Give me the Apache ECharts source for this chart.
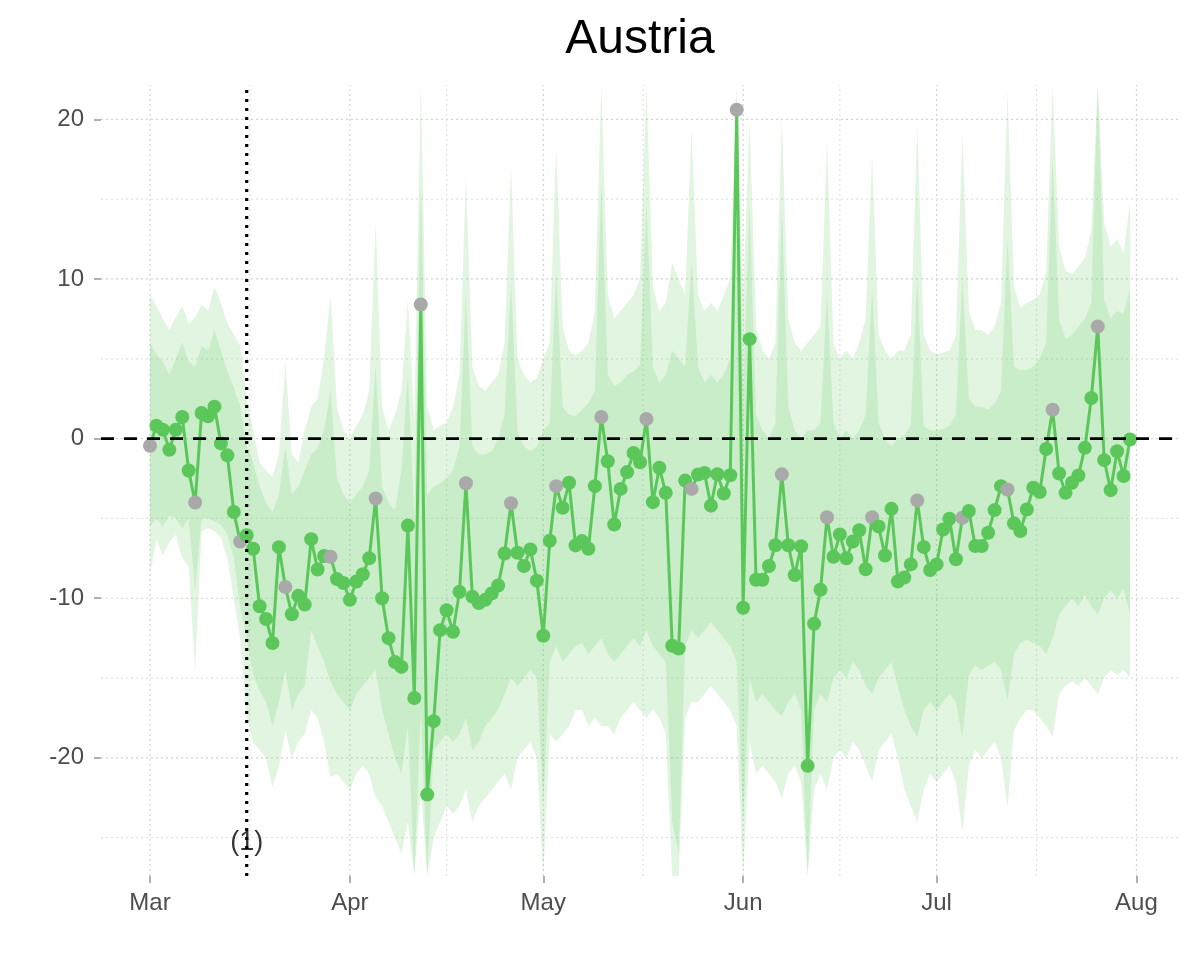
<!DOCTYPE html>
<html><head><meta charset="utf-8">
<script src="https://cdn.jsdelivr.net/npm/echarts@6/dist/echarts.min.js"></script>
<style>html,body{margin:0;padding:0;background:#fff}#chart{width:1200px;height:960px}</style>
</head><body><div id="chart"></div>
<script>
// ---- data (day index 0 = 1 March 2020) ----
const startDate = [2020, 2, 1];
const values = [
 -0.45, 0.8, 0.55, -0.7, 0.55, 1.35, -2.0, -4.0, 1.6, 1.4, 2.0, -0.3, -1.05, -4.6, -6.45,
 -6.05, -6.9, -10.5, -11.3, -12.8, -6.8, -9.3, -11.0, -9.85, -10.4, -6.3, -8.2, -7.35,
 -7.4, -8.8, -9.05, -10.1, -8.95, -8.5, -7.5, -3.75, -10.0, -12.5, -14.0, -14.3, -5.45, -16.25,
 8.4, -22.3, -17.7, -12.0, -10.75, -12.1, -9.6, -2.8, -9.9, -10.3, -10.1, -9.7, -9.2, -7.2,
 -4.05, -7.15, -7.98, -6.94, -8.9, -12.35, -6.4, -2.98, -4.33, -2.77, -6.69, -6.42, -6.9, -2.98,
 1.35, -1.42, -5.38, -3.15, -2.1, -0.9, -1.48, 1.23, -3.98, -1.83, -3.4, -12.98, -13.15, -2.63,
 -3.15, -2.25, -2.15, -4.2, -2.23, -3.44, -2.3,
 20.6, -10.6, 6.23, -8.84, -8.84, -7.98, -6.68, -2.24, -6.68, -8.55, -6.74, -20.5, -11.6, -9.47,
 -4.93, -7.4, -6.0, -7.5, -6.45, -5.74, -8.18, -4.93, -5.5, -7.32, -4.4, -8.95, -8.7, -7.88,
 -3.88, -6.79, -8.23, -7.88, -5.69, -5.02, -7.56, -4.96, -4.54, -6.73, -6.73, -5.9, -4.48, -2.98,
 -3.19, -5.31, -5.79, -4.44, -3.08, -3.35, -0.65, 1.81, -2.19, -3.4, -2.77, -2.31, -0.58, 2.54,
 7.02, -1.35, -3.23, -0.79, -2.35, -0.06
];
const lightHigh = [
 9.0, 8.3, 7.5, 6.8, 7.6, 8.3, 7.2, 7.6, 8.4, 8.0, 9.5, 8.5, 7.2, 6.5, 5.8,
 2.5, 0.5, -1.5, -2.0, -2.4, -1.0, 4.8, -1.0, -1.5, 0.5, 2.0, 2.5, 5.0,
 9.0, 2.0, 0.5, 0.0, 0.8, 1.5, 3.0, 13.5, 2.0, 0.5, 1.5, 3.0, 8.7, 1.0, 23.0, 2.0, 0.5, 0.8, 1.0, 2.0, 4.0, 16.4, 4.5, 3.3, 3.0, 3.5, 4.0, 6.0, 17.0,
 5.0, 4.0, 3.5, 3.8, 5.0, 6.0, 18.3, 7.0, 5.5, 5.2, 5.5, 6.0, 8.0, 23.0, 9.0, 7.5, 8.0, 8.5, 9.0, 10.0, 23.0, 9.5, 8.0, 8.5, 11.0, 10.0, 9.0, 19.4, 9.0, 8.0, 8.5, 8.0, 9.0, 10.0,
 23.0, 9.0, 19.9, 7.0, 5.5, 5.0, 6.0, 20.0, 7.5, 6.0, 5.5, 6.0, 6.5, 7.0, 18.6, 6.0, 5.0, 5.5, 5.0, 6.0, 7.5, 17.8, 6.5, 5.5, 5.0, 5.5, 5.5, 6.5, 19.6, 6.5, 5.5, 5.3, 5.4, 5.5, 6.5, 19.1, 8.0, 6.8, 6.8, 6.5, 7.0, 8.5, 21.8, 9.5, 8.2, 8.5, 8.7, 9.0, 10.5, 23.0, 12.0, 10.5, 10.3, 10.8, 11.3, 13.0, 23.0, 13.5, 12.0, 12.5, 11.6, 14.8
];
const darkHigh = [
 6.0, 5.3, 4.8, 4.0, 5.0, 6.0, 4.8, 4.5, 5.8, 5.5, 6.8, 5.5, 4.2, 3.2, 2.0,
 -0.5, -1.5, -3.0, -4.0, -4.6, -3.5, -0.5, -3.5, -3.0, -2.0, -1.0, -0.6, 0.5,
 3.0, -2.5, -3.5, -4.0, -3.5, -3.0, -2.0, 4.6, -3.0, -4.0, -4.5, -2.0, 4.0, -5.0, 16.0, -3.5, -3.0, -2.8, -2.5, -2.0, -0.5, 9.0, -0.5, -1.0, -1.0, -0.8, 0.0, 1.5, 9.7,
 0.5, -0.5, -0.8, -0.5, 0.5, 1.0, 10.3, 2.0, 1.5, 1.4, 1.8, 2.2, 3.0, 16.0, 4.0, 3.3, 3.5, 4.0, 4.2, 4.6, 14.8, 4.5, 3.5, 4.0, 5.5, 5.0, 4.5, 11.0, 4.5, 3.5, 4.0, 3.5, 4.0, 5.0,
 21.5, 3.0, 14.5, 1.5, 0.5, 0.0, 1.0, 14.5, 2.0, 0.5, 0.0, 0.5, 0.5, 1.0, 9.0, 1.0, 0.0, 0.5, 0.0, 0.5, 1.5, 9.4, 1.0, 0.0, -0.5, 0.0, 0.2, 0.8, 10.0, 0.8, 0.5, 0.5, 0.6, 0.8, 1.5, 10.0, 2.5, 2.0, 2.0, 1.8, 2.2, 3.0, 12.5, 4.5, 4.3, 4.3, 4.5, 5.0, 6.0, 17.6, 7.5, 6.2, 6.5, 7.0, 7.5, 8.5, 22.5, 8.7, 7.5, 8.0, 7.8, 9.4
];
const darkLow = [
 -5.5, -5.0, -5.5, -4.8, -5.0, -5.6, -5.0, -9.5, -5.0, -5.0, -5.2, -5.4, -6.0, -7.5, -10.5,
 -12.5, -14.8, -15.8, -16.5, -18.0, -16.5, -14.5, -17.0, -16.0, -15.5, -12.0, -13.0, -14.0,
 -15.2, -16.0, -16.5, -17.0, -16.0, -15.5, -15.0, -14.5, -17.0, -18.5, -20.0, -21.0, -18.0, -28.0, -17.0, -28.0, -19.5, -19.0, -18.5, -19.0, -18.5, -17.5, -19.5, -19.0, -18.0, -17.5, -17.0, -16.0, -15.0,
 -15.5, -15.0, -14.5, -15.0, -22.8, -14.0, -13.0, -14.0, -13.5, -13.0, -12.8, -13.5, -13.0, -12.5, -13.5, -14.0, -13.5, -13.0, -12.5, -13.0, -12.0, -13.0, -13.5, -14.0, -24.0, -26.0, -13.0, -12.0, -12.5, -12.0, -11.5, -12.0, -12.5, -13.0,
 -14.0, -24.0, -15.0, -16.5, -16.0, -16.5, -17.0, -17.4, -16.5, -16.0, -17.0, -28.0, -17.0, -16.0, -16.5, -15.0, -14.5, -15.0, -14.0, -14.5, -15.5, -16.0, -15.0, -14.5, -14.0, -15.5, -17.0, -18.0, -18.7, -17.0, -16.5, -17.0, -16.5, -16.0, -16.5, -18.7, -14.8, -14.2, -14.5, -14.2, -14.0, -14.5, -16.4, -13.5, -12.8, -12.6, -12.8, -13.0, -13.5, -12.5, -11.0, -10.5, -10.0, -10.5, -9.8, -10.5, -11.0, -10.0, -9.5, -10.0, -9.4, -11.0
];
const lightLow = [
 -8.5, -6.3, -7.3, -6.5, -6.0, -7.5, -8.0, -14.5, -5.8, -5.6, -5.8, -6.2, -7.5, -10.0, -12.6,
 -17.4, -19.0, -19.5, -20.0, -21.8, -20.5, -18.3, -20.0, -19.0, -18.5, -17.0, -17.5, -19.0,
 -21.2, -21.0, -21.5, -22.0, -21.0, -20.5, -21.0, -22.5, -23.0, -24.0, -25.0, -26.0, -24.0, -28.0, -22.0, -28.0, -25.0, -24.0, -23.0, -23.5, -23.0, -22.0, -24.0, -23.0, -22.5, -22.0, -21.5, -21.0, -22.0,
 -20.0, -19.5, -19.0, -20.0, -28.0, -18.5, -19.0, -18.5, -18.0, -17.0, -17.0, -18.0, -17.5, -18.0, -18.0, -18.5, -17.5, -17.0, -16.5, -17.0, -17.5, -17.0, -17.5, -18.5, -28.0, -28.0, -17.5, -16.5, -16.5, -16.0, -15.5, -16.0, -16.5, -17.0,
 -18.0, -28.0, -19.0, -21.0, -20.5, -21.0, -21.5, -22.5, -21.0, -20.5, -21.5, -28.0, -22.0, -21.0, -22.0, -20.0, -19.5, -20.0, -19.0, -19.5, -20.5, -21.5, -19.5, -19.0, -18.5, -20.0, -22.0, -23.0, -24.0, -22.0, -21.0, -21.5, -21.0, -20.5, -21.5, -24.7, -20.5, -19.5, -20.0, -19.5, -19.0, -20.0, -23.1, -18.3, -17.5, -17.0, -17.0, -17.5, -18.0, -18.7, -16.0, -15.5, -15.2, -15.5, -15.0, -15.5, -16.0, -15.0, -14.5, -14.8, -14.5, -15.0
];
const monthTickDays = [0, 31, 61, 92, 122, 153];
const monthTickLabels = ['Mar', 'Apr', 'May', 'Jun', 'Jul', 'Aug'];
const yTickValues = [-20, -10, 0, 10, 20];
const yMinorValues = [-25, -15, -5, 5, 15];
const eventDays = [15];
const eventLabels = ['(1)'];
const referenceLevel = 0;

// ---- layout / style ----
const X_MIN = -7.6, X_MAX = 159.6, Y_MIN = -27.4, Y_MAX = 22.15;
const FONT = 'Liberation Sans, Arial, sans-serif';
const GREEN = '#5BC75B';
const GRAY_PT = '#A9A9A9';
const BAND = 'rgba(97,200,97,0.19)';

const xMinor = [];
for (let i = 0; i < monthTickDays.length - 1; i++) xMinor.push((monthTickDays[i] + monthTickDays[i + 1]) / 2);

function vGrid(x, color) {
  return { type: 'line', data: [[x, Y_MIN], [x, Y_MAX]], symbol: 'none', silent: true, z: 0,
    lineStyle: { color: color, width: 1.2, type: [2, 3] } };
}
function hGrid(y, color) {
  return { type: 'line', data: [[X_MIN, y], [X_MAX, y]], symbol: 'none', silent: true, z: 0,
    lineStyle: { color: color, width: 1.2, type: [2, 3] } };
}
const series = [];
monthTickDays.forEach(d => series.push(vGrid(d, '#d2d2d2')));
xMinor.forEach(d => series.push(vGrid(d, '#e2e2e2')));
yTickValues.forEach(v => series.push(hGrid(v, '#d2d2d2')));
yMinorValues.forEach(v => series.push(hGrid(v, '#e2e2e2')));

const clampY = v => Math.max(Y_MIN, Math.min(Y_MAX, v));
function band(lo, hi) {
  series.push({
    type: 'custom', silent: true, z: 1, clip: true,
    data: lo.map((v, i) => [i, v, hi[i]]),
    encode: { x: 0, y: [1, 2] },
    renderItem: (params, api) => {
      if (params.dataIndex !== 0) return null;
      const top = hi.map((v, i) => api.coord([i, clampY(v)]));
      const bot = lo.map((v, i) => api.coord([i, clampY(v)])).reverse();
      return { type: 'polygon', shape: { points: top.concat(bot) }, style: { fill: BAND } };
    }
  });
}
band(lightLow, lightHigh);
band(darkLow, darkHigh);

const pointData = values.map((v, i) => {
  const dt = new Date(startDate[0], startDate[1], startDate[2] + i);
  return dt.getDay() === 0 ? { value: [i, v], itemStyle: { color: GRAY_PT } } : [i, v];
});
series.push({ type: 'line', data: pointData, symbol: 'circle', symbolSize: 14, showSymbol: true,
  lineStyle: { color: GREEN, width: 3 }, itemStyle: { color: GREEN }, z: 4 });

series.push({ type: 'line', data: [[X_MIN, referenceLevel], [X_MAX, referenceLevel]], symbol: 'none', silent: true, z: 5,
  lineStyle: { color: '#000', width: 2.6, type: [13, 10] } });
eventDays.forEach((d, k) => {
  series.push({ type: 'line', data: [[d, Y_MIN], [d, Y_MAX]], symbol: 'none', silent: true, z: 5,
    lineStyle: { color: '#000', width: 3.2, type: [3, 6] } });
  series.push({ type: 'scatter', data: [[d, -25.3]], symbolSize: 0, silent: true, z: 6,
    label: { show: true, position: 'inside', formatter: eventLabels[k], fontSize: 27, color: '#000', fontFamily: FONT } });
});

const chart = echarts.init(document.getElementById('chart'), null, { renderer: 'canvas' });
chart.setOption({
  animation: false,
  backgroundColor: '#fff',
  grid: { left: 101, right: 21, top: 85, bottom: 84, containLabel: false },
  graphic: [{ type: 'text', x: 640, y: 40,
    style: { text: 'Austria', font: '48px ' + FONT, fill: '#000', textAlign: 'center', textVerticalAlign: 'middle' } }],
  xAxis: {
    type: 'value', min: X_MIN, max: X_MAX, position: 'bottom',
    axisLine: { show: false, onZero: false }, splitLine: { show: false },
    axisTick: { show: true, customValues: monthTickDays, length: 7, lineStyle: { color: '#b0b0b0', width: 2 } },
    axisLabel: { customValues: monthTickDays, formatter: v => monthTickLabels[monthTickDays.indexOf(v)],
      fontSize: 24, color: '#4d4d4d', margin: 15, fontFamily: FONT }
  },
  yAxis: {
    type: 'value', min: Y_MIN, max: Y_MAX, position: 'left',
    axisLine: { show: false, onZero: false }, splitLine: { show: false },
    axisTick: { show: true, customValues: yTickValues, length: 7, lineStyle: { color: '#b0b0b0', width: 2 } },
    axisLabel: { customValues: yTickValues, formatter: v => String(v),
      fontSize: 24, color: '#4d4d4d', margin: 17, fontFamily: FONT }
  },
  series: series
});
</script>
</body></html>
